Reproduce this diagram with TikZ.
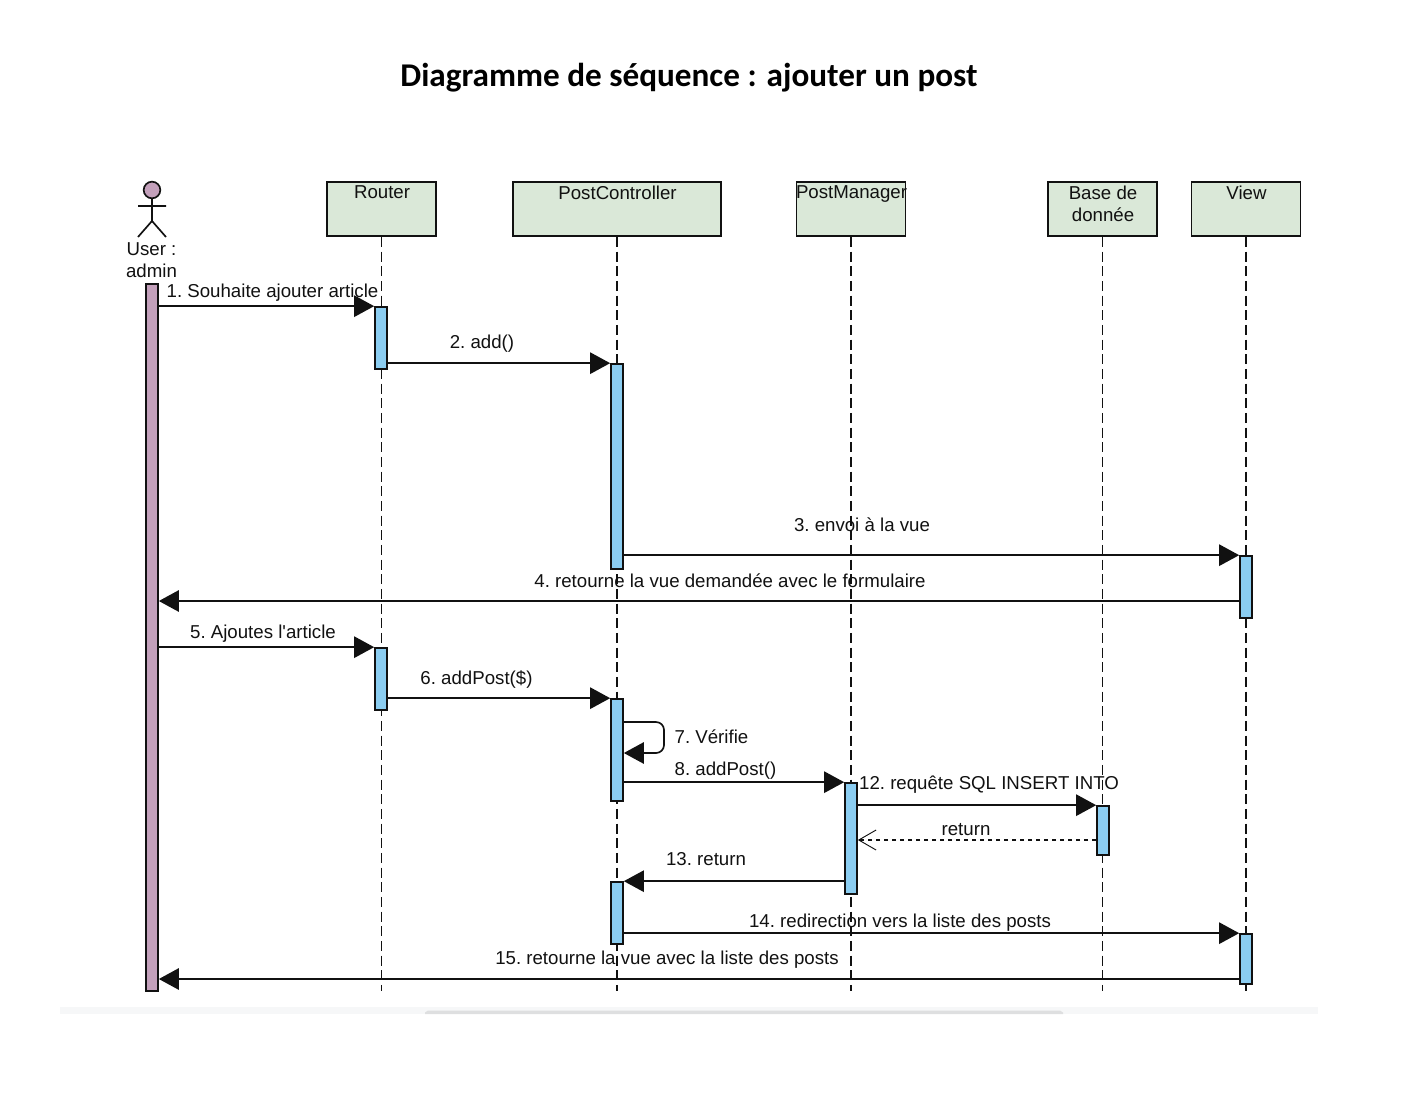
\documentclass[tikz,border=0pt]{standalone}
\usepackage{fontspec}
\newfontfamily\lablfam{Liberation Sans}
\newfontfamily\titlefont{Carlito}
\usetikzlibrary{arrows.meta,positioning,calc}
\definecolor{partfill}{HTML}{DAE8D8}
\definecolor{barblue}{HTML}{8BCDF1}
\definecolor{barpurple}{HTML}{C3A0BB}
\definecolor{inkline}{HTML}{111111}
\definecolor{stripa}{HTML}{F6F7F8}
\definecolor{stripb}{HTML}{DEDFE0}
\newcommand{\lablfont}{\lablfam\frenchspacing\fontsize{14}{16.4}\selectfont}
\tikzset{
  partbox/.style={draw=inkline, line width=1.25pt, fill=partfill, inner sep=0pt, minimum height=40.5pt},
  partlab/.style={font=\lablfont, align=center, anchor=north, inner sep=0pt, text=inkline, yshift=-3.3pt},
  lifeline/.style={draw=inkline, line width=1.25pt, dash pattern=on 7.5pt off 3.5pt},
  actbar/.style={draw=inkline, line width=1.25pt, fill=barblue, inner sep=0pt, minimum width=9pt},
  msgarr/.style={-{Triangle[length=15pt, width=16pt]}, line width=1.25pt, draw=inkline},
  retarr/.style={-{Straight Barb[length=13pt, width=15pt, line width=.7pt]}, line width=.9pt, draw=inkline, dash pattern=on 3.5pt off 2.5pt},
  msglab/.style={font=\lablfont, inner sep=0pt, text=inkline},
  actorline/.style={draw=inkline, line width=1.25pt}
}
\begin{document}
\begin{tikzpicture}[x=0.75pt,y=-0.75pt]
    \useasboundingbox (0,0) rectangle (1428,1106);
    \node[font=\titlefont\bfseries\fontsize{24.9}{30}\selectfont, inner sep=0pt] (title) at (689,78)
      {Diagramme de séquence : ajouter un post};
    % bottom strip
    \fill[stripa] (60,1007) rectangle (1318,1014);
    \fill[stripb] (425,1014) -- (425,1012.5) -- (428,1010.5) -- (1060,1010.5) -- (1063,1012.5) -- (1063,1014) -- cycle;
    % participants
    \foreach \x/\w/\n/\lab in {
      381.5/109/router/Router,
      617/208/postctrl/PostController,
      851/109/postmgr/PostManager,
      1102.5/109/basedb/{Base de\\donnée},
      1246/109/view/View} {
      \node[partbox, minimum width=\w*0.75pt] (\n) at (\x,209) {};
      \node[partlab, xshift=0.4pt] (\n lab) at (\n.north) {\lab};
      \coordinate (\n end) at (\x,991);
      \draw[lifeline] (\n) -- (\n end);
    }
    % actor
    \node[circle, draw=inkline, line width=1.25pt, fill=barpurple, minimum size=12.5pt, inner sep=0pt] (head) at (152,190) {};
    \coordinate (hip) at (152,221);
    \coordinate (armL) at (138,206);
    \coordinate (armR) at (166,206);
    \coordinate (legL) at (138,237);
    \coordinate (legR) at (166,237);
    \draw[actorline] (head) -- (hip) (armL) -- (armR) (legL) -- (hip) -- (legR);
    \node[msglab, align=center] (actor) at (151.5,260) {User :\\admin};
    % activation bars
    \node[actbar, fill=barpurple, minimum height=530.25pt] (user) at (152,637.5) {};
    \foreach \n/\x/\a/\b in {
      r1/381/307/369,
      p1/617/364/569,
      v1/1246/556/618,
      r2/381/648/710,
      p2/617/699/801,
      m1/851/783/894,
      d1/1103/806/855,
      p3/617/882/944,
      v2/1246/934/984} {
      \node[actbar, minimum height=(\b-\a)*0.75pt] (\n) at (\x,{(\a+\b)/2}) {};
    }
    % free y levels
    \coordinate (m4) at (700,601);
    \coordinate (m7a) at (640,722);
    \coordinate (m7b) at (640,753);
    \coordinate (m9) at (980,840);
    \coordinate (m15) at (700,979);
    \coordinate (m7c) at (664,722);
    \coordinate (m7d) at (664,753);
    % messages
    \draw[msgarr] (user.east |- r1.north) -- (r1.north west);
    \draw[msgarr] (r1.east |- p1.north) -- (p1.north west);
    \draw[msgarr] (p1.east |- v1.north) -- (v1.north west);
    \draw[msgarr] (v1.west |- m4) -- (user.east |- m4);
    \draw[msgarr] (user.east |- r2.north) -- (r2.north west);
    \draw[msgarr] (r2.east |- p2.north) -- (p2.north west);
    \draw[msgarr, rounded corners=6pt] (p2.east |- m7a) -- (m7c) -- (m7d) -- (p2.east |- m7b);
    \draw[msgarr] (p2.east |- m1.north) -- (m1.north west);
    \draw[msgarr] (m1.east |- d1.north) -- (d1.north west);
    \draw[retarr] (d1.west |- m9) -- (m1.east |- m9);
    \draw[msgarr] (m1.west |- p3.north) -- (p3.north east);
    \draw[msgarr] (p3.east |- v2.north) -- (v2.north west);
    \draw[msgarr] (v2.west |- m15) -- (user.east |- m15);
    % labels
    \foreach \n/\x/\y/\lab in {
      1/272.5/293/1. Souhaite ajouter article,
      2/482/344/2. add(),
      3/862/525/3. envoi à la vue,
      4/730/581/4. retourne la vue demandée avec le formulaire,
      5/263/634/5. Ajoutes l'article,
      6/476.5/680/6. addPost(\$),
      7/711.5/737/7. Vérifie,
      8/725.5/771/8. addPost(),
      12/989/785/12. requête SQL INSERT INTO,
      r/966/830/return,
      13/706/859/13. return,
      14/900/923/14. redirection vers la liste des posts,
      15/667/960/15. retourne la vue avec la liste des posts} {
      \node[msglab] (lab\n) at (\x,\y) {\lab};
    }
  \end{tikzpicture}
\end{document}
